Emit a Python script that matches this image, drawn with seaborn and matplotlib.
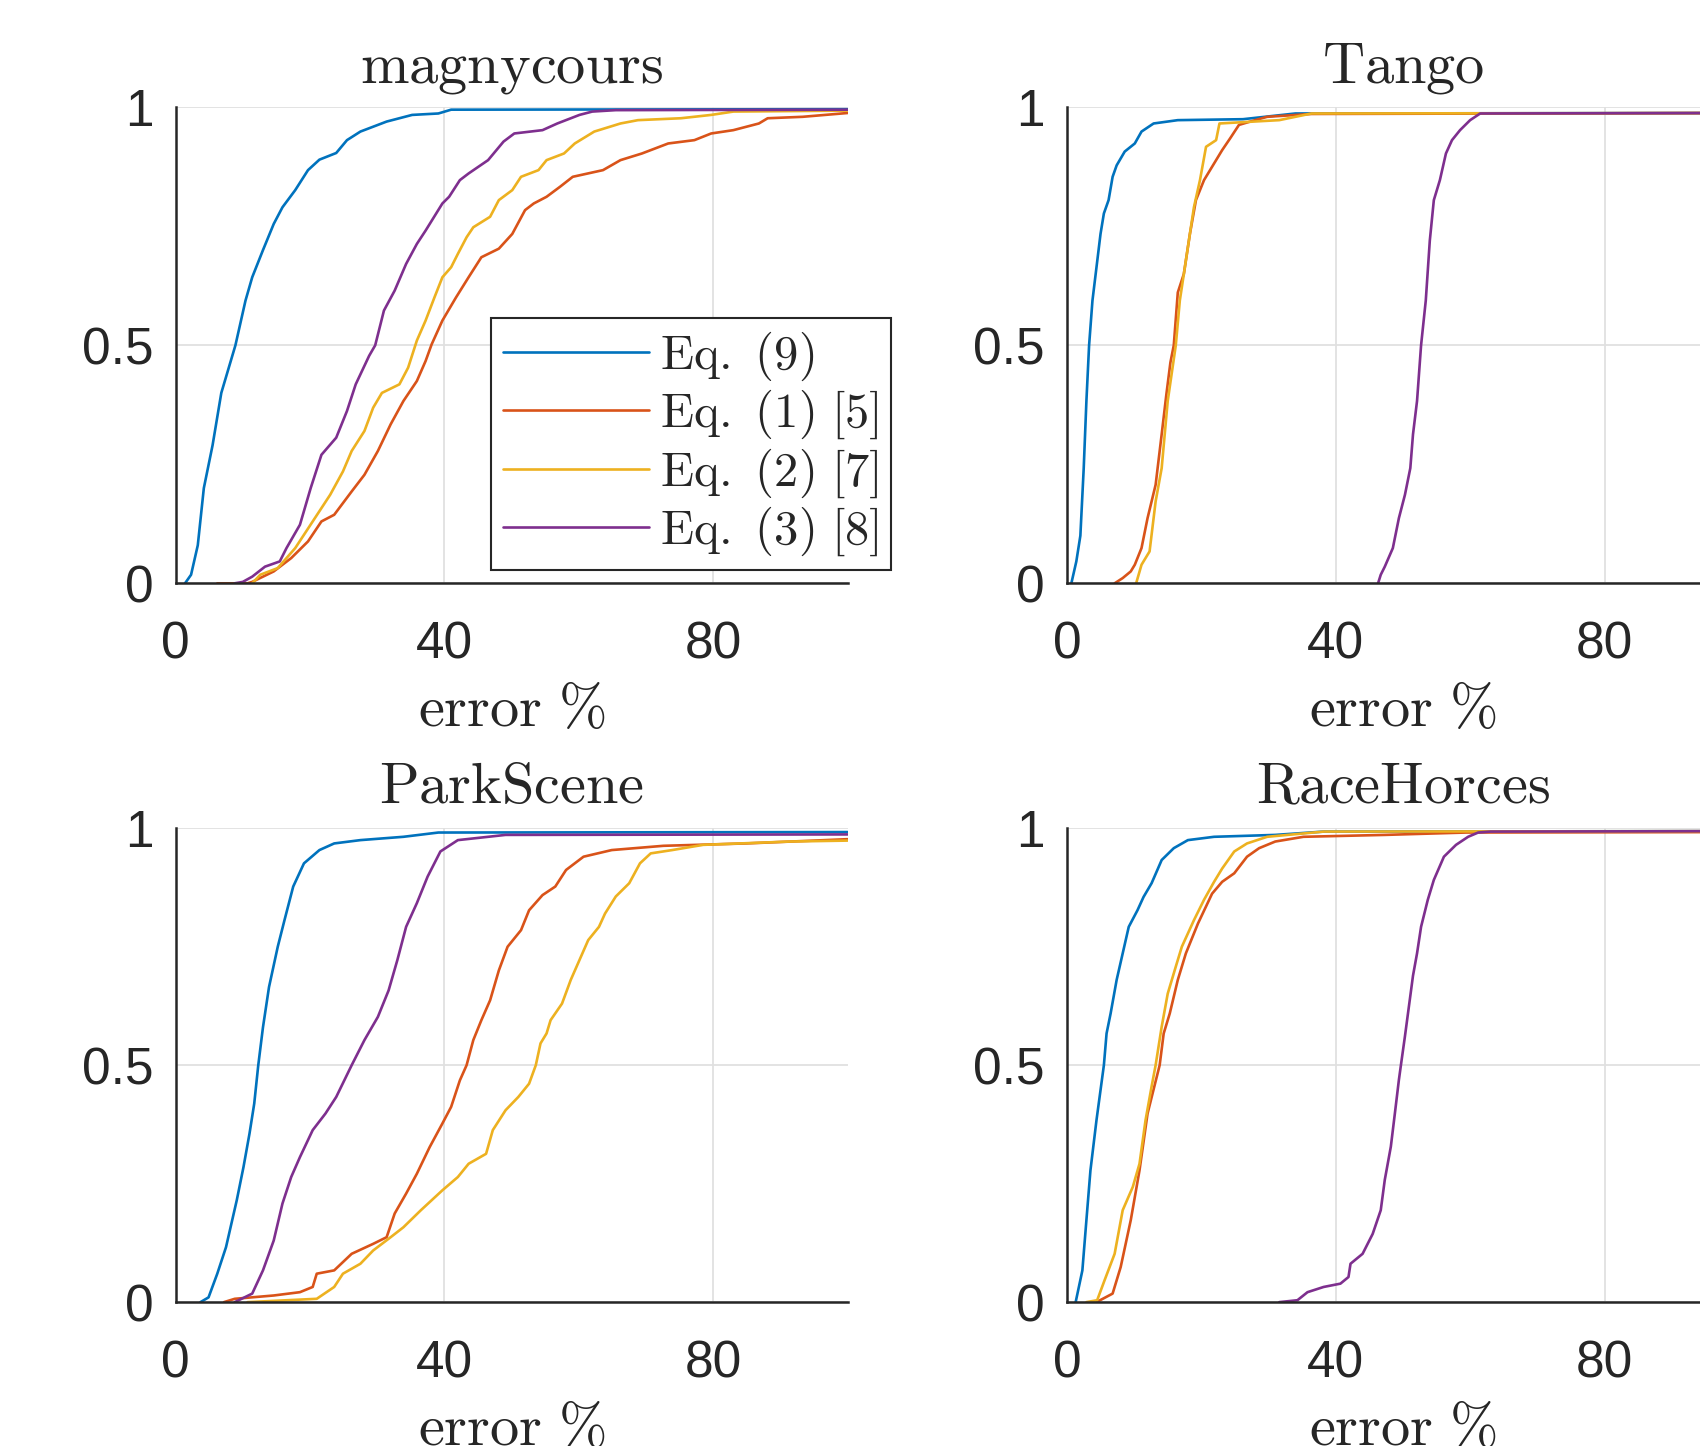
import matplotlib
matplotlib.use('Agg')
import matplotlib.pyplot as plt
import seaborn as sns
import pandas as pd

# === values (error %, cumulative fraction) ===
methods = ['Eq. (9)', 'Eq. (1) [5]', 'Eq. (2) [7]', 'Eq. (3) [8]']
legend_labels = [r'$\mathrm{Eq.\ (9)}$', r'$\mathrm{Eq.\ (1)\ [5]}$',
                 r'$\mathrm{Eq.\ (2)\ [7]}$', r'$\mathrm{Eq.\ (3)\ [8]}$']
titles = ['magnycours', 'Tango', 'ParkScene', 'RaceHorces']

# magnycours
mag_eq9_x = [1.4, 2.3, 3.3, 4.2, 5.5, 6.8, 8.9, 10.4, 11.4, 13.0, 14.6, 15.9, 17.8, 19.7, 21.4, 23.9, 25.5, 27.5, 31.4, 35.2, 39.1, 41.0, 100]
mag_eq9_y = [0, 0.018, 0.08, 0.2, 0.29, 0.40, 0.5, 0.594, 0.643, 0.70, 0.755, 0.79, 0.826, 0.868, 0.89, 0.904, 0.931, 0.949, 0.97, 0.984, 0.987, 0.995, 0.996]
mag_eq1_x = [6.2, 10.7, 11.4, 14.6, 17.2, 19.7, 21.7, 23.6, 26.2, 28.1, 30.1, 32.0, 33.9, 35.9, 37.2, 38.1, 39.7, 41.7, 43.6, 45.5, 48.1, 50.1, 52.0, 53.3, 55.2, 57.2, 59.1, 63.6, 66.2, 69.4, 73.3, 77.2, 79.7, 83.0, 86.8, 88.1, 93.3, 100]
mag_eq1_y = [0, 0, 0.003, 0.025, 0.053, 0.088, 0.13, 0.144, 0.193, 0.228, 0.278, 0.334, 0.383, 0.425, 0.467, 0.502, 0.552, 0.60, 0.643, 0.685, 0.703, 0.734, 0.784, 0.798, 0.812, 0.833, 0.854, 0.868, 0.889, 0.903, 0.924, 0.931, 0.945, 0.952, 0.966, 0.977, 0.98, 0.988]
mag_eq2_x = [11.4, 12.6, 15.2, 17.8, 20.4, 23.0, 24.9, 26.2, 28.1, 29.4, 30.7, 33.3, 34.6, 35.9, 37.2, 38.5, 39.7, 41.0, 42.0, 43.3, 44.3, 46.8, 48.1, 50.1, 51.4, 54.0, 55.2, 57.8, 59.4, 62.3, 66.2, 68.8, 75.2, 79.7, 83.0, 100]
mag_eq2_y = [0, 0.018, 0.032, 0.074, 0.13, 0.186, 0.235, 0.278, 0.32, 0.369, 0.40, 0.418, 0.453, 0.51, 0.552, 0.60, 0.643, 0.664, 0.692, 0.727, 0.748, 0.77, 0.805, 0.826, 0.854, 0.868, 0.889, 0.903, 0.924, 0.949, 0.966, 0.973, 0.977, 0.984, 0.991, 0.993]
mag_eq3_x = [8.8, 10.0, 11.4, 13.3, 15.5, 16.5, 18.5, 20.1, 21.7, 23.9, 25.5, 26.8, 28.8, 29.7, 31.0, 32.6, 34.3, 35.9, 37.2, 39.7, 40.7, 42.3, 43.6, 46.5, 48.8, 50.4, 54.6, 56.8, 60.1, 62.0, 65.5, 100]
mag_eq3_y = [0, 0.003, 0.014, 0.035, 0.046, 0.074, 0.123, 0.2, 0.27, 0.306, 0.362, 0.418, 0.478, 0.5, 0.573, 0.615, 0.671, 0.713, 0.741, 0.798, 0.812, 0.847, 0.861, 0.889, 0.928, 0.945, 0.952, 0.966, 0.984, 0.991, 0.994, 0.995]

# Tango
tan_eq9_x = [0.66, 1.4, 2.0, 2.5, 2.9, 3.3, 3.8, 4.4, 5.0, 5.5, 6.2, 6.8, 7.4, 8.6, 10.1, 11.1, 12.9, 16.5, 26.2, 34.0, 100]
tan_eq9_y = [0, 0.046, 0.10, 0.242, 0.383, 0.5, 0.594, 0.664, 0.734, 0.777, 0.805, 0.854, 0.878, 0.907, 0.924, 0.949, 0.966, 0.973, 0.975, 0.987, 0.988]
tan_eq1_x = [7.1, 8.3, 9.5, 10.1, 11.1, 12.0, 13.2, 14.1, 14.8, 15.4, 15.9, 16.5, 17.4, 18.3, 19.2, 20.4, 21.9, 23.1, 24.3, 25.6, 28.0, 29.8, 36.4, 100]
tan_eq1_y = [0, 0.011, 0.025, 0.039, 0.074, 0.137, 0.207, 0.313, 0.397, 0.464, 0.5, 0.611, 0.65, 0.734, 0.805, 0.847, 0.882, 0.91, 0.935, 0.963, 0.973, 0.98, 0.986, 0.988]
tan_eq2_x = [10.3, 11.1, 12.3, 13.2, 14.1, 15.0, 16.2, 16.8, 17.4, 18.3, 18.9, 19.8, 20.7, 22.2, 22.7, 31.6, 36.4, 100]
tan_eq2_y = [0, 0.039, 0.067, 0.172, 0.242, 0.383, 0.5, 0.594, 0.65, 0.734, 0.79, 0.847, 0.917, 0.931, 0.966, 0.973, 0.987, 0.988]
tan_eq3_x = [46.3, 46.7, 47.3, 48.5, 49.4, 50.3, 51.1, 51.5, 52.1, 52.7, 53.4, 54.0, 54.6, 55.5, 56.4, 57.3, 58.5, 60.0, 61.5, 100]
tan_eq3_y = [0, 0.018, 0.035, 0.074, 0.137, 0.186, 0.242, 0.313, 0.383, 0.5, 0.594, 0.72, 0.805, 0.847, 0.903, 0.931, 0.952, 0.973, 0.987, 0.988]

# ParkScene
prk_eq9_x = [3.7, 4.9, 6.2, 7.5, 9.1, 10.1, 11.0, 11.7, 12.3, 13.0, 13.9, 15.2, 16.2, 17.5, 19.1, 21.4, 23.6, 27.5, 33.9, 39.1, 100]
prk_eq9_y = [0, 0.01, 0.06, 0.116, 0.215, 0.285, 0.356, 0.419, 0.5, 0.58, 0.665, 0.75, 0.806, 0.877, 0.926, 0.954, 0.968, 0.975, 0.982, 0.991, 0.992]
prk_eq1_x = [7.2, 8.8, 14.6, 18.5, 20.4, 21.0, 23.6, 26.2, 29.4, 31.4, 32.6, 34.3, 35.9, 37.8, 39.7, 41.0, 42.3, 43.3, 44.3, 45.5, 46.8, 48.1, 49.4, 51.4, 52.6, 54.6, 56.5, 58.1, 60.7, 64.9, 72.6, 84.9, 100]
prk_eq1_y = [0, 0.007, 0.014, 0.021, 0.032, 0.06, 0.067, 0.102, 0.123, 0.137, 0.187, 0.229, 0.271, 0.327, 0.377, 0.412, 0.468, 0.5, 0.553, 0.595, 0.637, 0.70, 0.75, 0.785, 0.827, 0.859, 0.877, 0.912, 0.94, 0.954, 0.963, 0.968, 0.977]
prk_eq2_x = [10.7, 21.0, 23.6, 24.9, 27.5, 29.4, 32.0, 33.9, 36.5, 39.7, 42.0, 43.6, 46.2, 47.2, 49.1, 51.0, 52.6, 53.6, 54.3, 55.2, 55.8, 57.5, 58.8, 60.1, 61.4, 63.0, 63.9, 65.5, 67.5, 69.1, 70.7, 73.9, 78.5, 91.4, 100]
prk_eq2_y = [0, 0.007, 0.032, 0.06, 0.081, 0.109, 0.137, 0.158, 0.194, 0.236, 0.264, 0.292, 0.313, 0.363, 0.405, 0.433, 0.461, 0.5, 0.546, 0.567, 0.595, 0.63, 0.68, 0.722, 0.764, 0.792, 0.82, 0.856, 0.884, 0.926, 0.947, 0.954, 0.965, 0.972, 0.974]
prk_eq3_x = [8.8, 11.4, 13.0, 14.6, 15.9, 17.2, 18.5, 20.4, 22.3, 23.9, 26.2, 28.1, 30.1, 31.7, 33.0, 34.3, 35.9, 37.5, 39.4, 42.0, 49.1, 100]
prk_eq3_y = [0, 0.018, 0.067, 0.13, 0.208, 0.264, 0.306, 0.363, 0.398, 0.433, 0.5, 0.553, 0.602, 0.658, 0.722, 0.792, 0.842, 0.898, 0.951, 0.975, 0.986, 0.987]

# RaceHorces
rh_eq9_x = [1.3, 2.3, 2.9, 3.5, 4.4, 5.5, 5.9, 6.5, 7.4, 8.3, 9.2, 10.5, 11.4, 12.6, 14.1, 15.9, 18.0, 21.9, 31.0, 38.2, 100]
rh_eq9_y = [0, 0.067, 0.173, 0.278, 0.384, 0.5, 0.567, 0.609, 0.68, 0.736, 0.792, 0.827, 0.855, 0.884, 0.933, 0.958, 0.975, 0.982, 0.986, 0.993, 0.994]
rh_eq1_x = [4.4, 6.8, 8.0, 9.5, 10.8, 12.0, 13.8, 14.4, 15.3, 16.5, 17.7, 19.5, 21.6, 23.1, 24.9, 26.8, 28.6, 31.0, 35.2, 47.3, 59.4, 100]
rh_eq1_y = [0, 0.018, 0.074, 0.173, 0.278, 0.398, 0.5, 0.567, 0.609, 0.68, 0.736, 0.799, 0.862, 0.887, 0.905, 0.94, 0.958, 0.972, 0.982, 0.986, 0.991, 0.992]
rh_eq2_x = [2.9, 4.5, 5.6, 7.1, 8.3, 9.8, 10.8, 11.7, 12.6, 13.2, 14.1, 15.0, 16.2, 17.1, 18.9, 20.4, 21.9, 23.1, 24.9, 26.8, 29.8, 38.2, 100]
rh_eq2_y = [0, 0.004, 0.046, 0.102, 0.194, 0.243, 0.292, 0.384, 0.455, 0.5, 0.581, 0.651, 0.708, 0.75, 0.806, 0.849, 0.887, 0.915, 0.951, 0.968, 0.982, 0.993, 0.994]
rh_eq3_x = [31.6, 34.3, 35.8, 38.2, 40.7, 41.9, 42.2, 44.0, 45.5, 46.7, 47.3, 48.2, 48.8, 49.4, 49.7, 50.3, 50.9, 51.5, 52.1, 52.7, 53.7, 54.6, 56.1, 57.9, 59.7, 61.2, 63.0, 100]
rh_eq3_y = [0, 0.004, 0.021, 0.032, 0.039, 0.053, 0.081, 0.102, 0.144, 0.194, 0.258, 0.328, 0.398, 0.469, 0.5, 0.561, 0.625, 0.689, 0.736, 0.792, 0.849, 0.891, 0.94, 0.965, 0.982, 0.991, 0.993, 0.994]

panels = [
    [(mag_eq9_x, mag_eq9_y), (mag_eq1_x, mag_eq1_y), (mag_eq2_x, mag_eq2_y), (mag_eq3_x, mag_eq3_y)],
    [(tan_eq9_x, tan_eq9_y), (tan_eq1_x, tan_eq1_y), (tan_eq2_x, tan_eq2_y), (tan_eq3_x, tan_eq3_y)],
    [(prk_eq9_x, prk_eq9_y), (prk_eq1_x, prk_eq1_y), (prk_eq2_x, prk_eq2_y), (prk_eq3_x, prk_eq3_y)],
    [(rh_eq9_x, rh_eq9_y), (rh_eq1_x, rh_eq1_y), (rh_eq2_x, rh_eq2_y), (rh_eq3_x, rh_eq3_y)],
]

colors = ['#0072BD', '#D95319', '#EDB120', '#7E2F8E']

sns.set_theme(style='white')
plt.rcParams['font.family'] = ['Liberation Sans', 'DejaVu Sans']
plt.rcParams['mathtext.fontset'] = 'cm'

fig = plt.figure(figsize=(17, 14.46), dpi=100)

# axes boxes in figure fractions (left, bottom, width, height)
boxes = [
    (0.1033, 0.5966, 0.3953, 0.3292),
    (0.6276, 0.5966, 0.3953, 0.3292),
    (0.1033, 0.0995, 0.3953, 0.3277),
    (0.6276, 0.0995, 0.3953, 0.3277),
]

for i, (box, title) in enumerate(zip(boxes, titles)):
    ax = fig.add_axes(box)
    rows = []
    for m, (xs, ys) in zip(methods, panels[i]):
        for x, y in zip(xs, ys):
            rows.append({'error': x, 'cdf': y, 'method': m})
    df = pd.DataFrame(rows)
    sns.lineplot(data=df, x='error', y='cdf', hue='method', hue_order=methods,
                 palette=colors, sort=False, estimator=None, linewidth=1.9,
                 legend=False, ax=ax)

    ax.set_xlim(0, 100)
    ax.set_ylim(0, 1)
    ax.set_xticks([0, 40, 80])
    ax.set_xticklabels(['0', '40', '80'])
    ax.set_yticks([0, 0.5, 1])
    ax.set_yticklabels(['0', '0.5', '1'])
    ax.grid(True, color='#e0e0e0', linewidth=1.3)
    ax.set_axisbelow(True)
    for side in ['top', 'right']:
        ax.spines[side].set_visible(False)
    for side in ['left', 'bottom']:
        ax.spines[side].set_color('#262626')
        ax.spines[side].set_linewidth(1.8)
    ax.tick_params(axis='both', direction='in', length=7, width=1.8,
                   color='#262626', labelcolor='#262626', labelsize=37)
    ax.tick_params(axis='x', pad=27)
    ax.tick_params(axis='y', pad=16)
    ax.set_title(r'$\mathrm{' + title + '}$', fontsize=42, pad=18)
    ax.set_xlabel(r'$\mathrm{error\ \%}$', fontsize=42, labelpad=10)
    ax.set_ylabel('')

    if i == 0:
        leg = ax.legend(handles=ax.lines[:4], labels=legend_labels,
                        loc='upper left', bbox_to_anchor=(0.2888, 0.7803),
                        bbox_transform=fig.transFigure, fontsize=35,
                        frameon=True, fancybox=False, framealpha=1,
                        edgecolor='#262626', handlelength=3.0,
                        handletextpad=0.22, labelspacing=0.1,
                        borderpad=0.25, borderaxespad=0)
        leg.get_frame().set_linewidth(1.5)
        leg.set_zorder(10)

fig.savefig('out.png', dpi=100)
